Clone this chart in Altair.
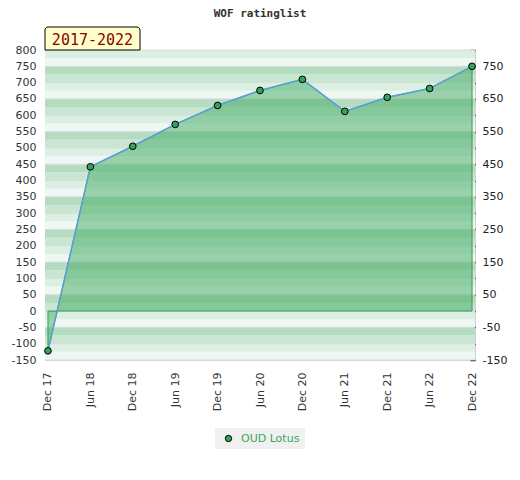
import altair as alt
import pandas as pd

title_text = "WOF ratinglist"
period_label = "2017-2022"
player = "OUD Lotus"
months = ["Dec 17", "Jun 18", "Dec 18", "Jun 19", "Dec 19", "Jun 20",
          "Dec 20", "Jun 21", "Dec 21", "Jun 22", "Dec 22"]
ratings = [-122, 442, 505, 572, 630, 676, 710, 612, 655, 682, 750]
left_ticks = [-150, -100, -50, 0, 50, 100, 150, 200, 250, 300, 350, 400,
              450, 500, 550, 600, 650, 700, 750, 800]
right_ticks = left_ticks
stripe_edges = [-150, -125, -100, -75, -50, -25, 0, 25, 50, 75, 100, 125, 150,
                175, 200, 225, 250, 275, 300, 325, 350, 375, 400, 425, 450,
                475, 500, 525, 550, 575, 600, 625, 650, 675, 700, 725, 750,
                775, 800]
stripe_cycle = ["#eff7f2", "#dcefe3", "#c8e6d1", "#b4dcc1"]

W, H = 430, 310
dom = [-150, 800]

df = pd.DataFrame({"month": months, "rating": ratings, "player": [player] * len(months)})
stripes = pd.DataFrame({
    "lo": stripe_edges[:-1],
    "hi": stripe_edges[1:],
    "c": [stripe_cycle[i % 4] for i in range(len(stripe_edges) - 1)],
})
grid = pd.DataFrame({"v": left_ticks})

yscale = alt.Scale(domain=dom, nice=False, zero=False)
yaxis_left = alt.Axis(title=None, values=left_ticks, ticks=False, tickSize=0,
                      domain=False, grid=False, labelPadding=9, labelOverlap=False,
                      labelExpr="'' + datum.value",
                      labelFont="DejaVu Sans", labelFontSize=11, labelColor="#333")
xenc = alt.X("month:O", sort=None,
             scale=alt.Scale(type="point", padding=0.07),
             axis=alt.Axis(title=None, labelAngle=270, ticks=False, tickSize=0,
                           domain=False, labelPadding=12, labelFont="DejaVu Sans",
                           labelFontSize=11, labelColor="#333"))

stripe_layer = alt.Chart(stripes).mark_rect().encode(
    x=alt.value(0), x2=alt.value(W),
    y=alt.Y("lo:Q", scale=yscale, axis=yaxis_left),
    y2="hi:Q",
    fill=alt.Fill("c:N", scale=None),
)

grid_layer = alt.Chart(grid).mark_rule(color="#d6dcd8", strokeWidth=1).encode(
    y=alt.Y("v:Q", scale=yscale, axis=yaxis_left), x=alt.value(0), x2=alt.value(W)
)

area_layer = alt.Chart(df).mark_area(
    fill="#41ab64", fillOpacity=0.5, stroke="#3a9a55", strokeWidth=1
).encode(x=xenc, y=alt.Y("rating:Q", scale=yscale, axis=yaxis_left), y2=alt.datum(0))

line_layer = alt.Chart(df).mark_line(color="#5a9fd8", strokeWidth=1.5).encode(
    x=xenc, y=alt.Y("rating:Q", scale=yscale, axis=yaxis_left)
)

point_layer = alt.Chart(df).mark_circle(size=45, stroke="black", strokeWidth=1, opacity=1).encode(
    x=xenc, y=alt.Y("rating:Q", scale=yscale, axis=yaxis_left),
    fill=alt.Fill("player:N", scale=alt.Scale(range=["#34a25a"]),
                  legend=alt.Legend(title=None, orient="none", legendX=170, legendY=378,
                                    fillColor="#f0f0f0", padding=5, symbolOffset=3,
                                    labelOffset=7, symbolType="circle", symbolSize=40,
                                    symbolStrokeColor="black", symbolStrokeWidth=1,
                                    labelFont="DejaVu Sans", labelFontSize=11,
                                    labelColor="#3aa65c")),
)

title_layer = alt.Chart(pd.DataFrame({"t": [title_text]})).mark_text(
    font="DejaVu Sans Mono", fontWeight="bold", fontSize=11, color="#333",
    baseline="middle", align="center"
).encode(x=alt.value(W / 2), y=alt.value(-36), text="t:N")

box_layer = alt.Chart(pd.DataFrame({"t": [period_label]})).mark_rect(
    fill="#ffffcc", stroke="black", strokeWidth=1,
    cornerRadiusTopLeft=3, cornerRadiusTopRight=3
).encode(x=alt.value(0), x2=alt.value(95), y=alt.value(-23), y2=alt.value(0))

box_text = alt.Chart(pd.DataFrame({"t": [period_label]})).mark_text(
    font="DejaVu Sans Mono", fontSize=15, color="#8b0000",
    baseline="middle", align="center"
).encode(x=alt.value(47.5), y=alt.value(-10.5), text="t:N")

inner = alt.layer(stripe_layer, grid_layer, area_layer, line_layer, point_layer,
                  box_layer, box_text, title_layer)

right_layer = alt.Chart(pd.DataFrame({"v": right_ticks})).mark_rule(opacity=0).encode(
    y=alt.Y("v:Q", scale=alt.Scale(domain=dom, nice=False, zero=False),
            axis=alt.Axis(orient="right", title=None, values=right_ticks,
                          labelExpr="(datum.value % 100 == 50 || datum.value % 100 == -50) ? ('' + datum.value) : ''",
                          labelOverlap=False,
                          offset=-5, tickSize=5, tickColor="black", tickWidth=1.5,
                          domain=False, grid=False, labelPadding=7,
                          labelFont="DejaVu Sans", labelFontSize=11, labelColor="#222"))
)

chart = alt.layer(inner, right_layer).resolve_scale(y="independent").properties(
    width=W, height=H,
    padding={"left": 37, "top": 42, "right": 37, "bottom": 112},
    autosize=alt.AutoSizeParams(type="none"),
).configure_view(stroke="#d0d0d0", strokeWidth=1)

chart.save("out.html", embed_options={"renderer": "svg", "actions": False})
